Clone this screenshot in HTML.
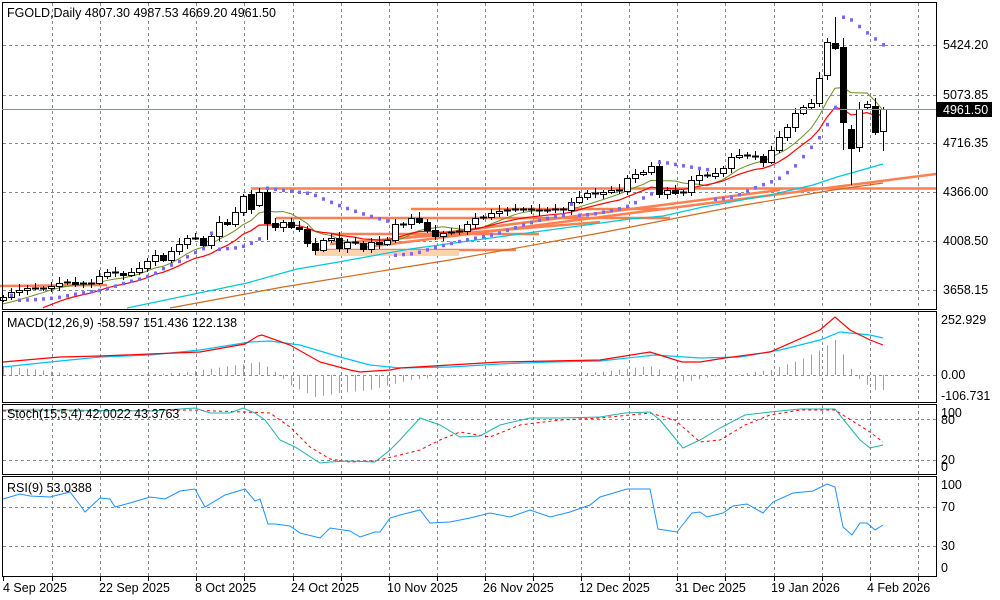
<!DOCTYPE html>
<html><head><meta charset="utf-8">
<style>
html,body{margin:0;padding:0;background:#fff;}
svg{display:block;font-family:"Liberation Sans","DejaVu Sans",sans-serif;font-size:12.5px;}
</style></head>
<body>
<svg id="s" width="1000" height="600" xmlns="http://www.w3.org/2000/svg">
<rect width="1000" height="600" fill="#fff"/>
<g id="grid"></g>
<g id="lines"></g>
<g id="cand"></g>
<g id="frames" fill="none" stroke="#000" stroke-width="1">
<rect x="2.5" y="2.5" width="934" height="307"/>
<rect x="2.5" y="311.5" width="934" height="91"/>
<rect x="2.5" y="404.5" width="934" height="70"/>
<rect x="2.5" y="476.5" width="934" height="100"/>
</g>
<line x1="2" y1="109.5" x2="936" y2="109.5" stroke="#8a9099" stroke-width="1"/>
<g fill="#000">
<text x="7" y="17">FGOLD,Daily  4807.30 4987.53 4669.20 4961.50</text>
<text x="7" y="327">MACD(12,26,9) -58.597 151.436 122.138</text>
<text x="7" y="418">Stoch(15,5,4) 42.0022 43.3763</text>
<text x="7" y="492">RSI(9) 53.0388</text>
<text x="943" y="49">5424.20</text>
<text x="943" y="99">5073.85</text>
<text x="943" y="147">4716.35</text>
<text x="943" y="196">4366.00</text>
<text x="943" y="245">4008.50</text>
<text x="943" y="294">3658.15</text>
<rect x="937" y="102" width="55" height="15" fill="#000"/>
<text x="943" y="114" fill="#fff">4961.50</text>
<text x="941" y="324">252.929</text>
<text x="941" y="379">0.00</text>
<text x="941" y="400">-106.731</text>
<text x="941" y="417">100</text>
<text x="941" y="424">80</text>
<text x="941" y="464">20</text>
<text x="941" y="471">0</text>
<text x="941" y="489">100</text>
<text x="941" y="511">70</text>
<text x="941" y="550">30</text>
<text x="941" y="572">0</text>
<text x="3" y="592">4 Sep 2025</text>
<text x="99" y="592">22 Sep 2025</text>
<text x="195" y="592">8 Oct 2025</text>
<text x="291" y="592">24 Oct 2025</text>
<text x="387" y="592">10 Nov 2025</text>
<text x="483" y="592">26 Nov 2025</text>
<text x="579" y="592">12 Dec 2025</text>
<text x="675" y="592">31 Dec 2025</text>
<text x="771" y="592">19 Jan 2026</text>
<text x="867" y="592">4 Feb 2026</text>
</g>
</svg>
<script>
var NS="http://www.w3.org/2000/svg";
function el(p,t,a){var e=document.createElementNS(NS,t);for(var k in a)e.setAttribute(k,a[k]);document.getElementById(p).appendChild(e);return e;}
function pl(p,pts,c,w,d){el(p,"polyline",{points:pts.map(function(q){return q[0]+","+q[1]}).join(" "),fill:"none",stroke:c,"stroke-width":w||1,"stroke-dasharray":d||"none"});}
var gx=[];for(var x=52;x<936;x+=48.1)gx.push(Math.round(x)+0.5);
var panels=[[3,309],[312,402],[405,474],[477,576]];
gx.forEach(function(x){panels.forEach(function(p){el("grid","line",{x1:x,y1:p[0],x2:x,y2:p[1],stroke:"#808a96","stroke-dasharray":"3,3"});});
 el("grid","line",{x1:x,y1:577,x2:x,y2:581,stroke:"#000"});});
el("grid","line",{x1:3.5,y1:577,x2:3.5,y2:581,stroke:"#000"});
[45,95,143,192,241,290,375,419,460,507,546].forEach(function(y){el("grid","line",{x1:3,y1:y+0.5,x2:936,y2:y+0.5,stroke:"#808a96","stroke-dasharray":"3,3"});});
var OR="#ff7f50";
[[0,286,107,285],[251,188.5,936,188.5],[411,209,665,209],[276,218,670,218],[331,234,539,234],[315,250,516,250]].forEach(function(l){el("lines","line",{x1:l[0],y1:l[1],x2:l[2],y2:l[3],stroke:OR,"stroke-width":2.5});});
el("lines","rect",{x:315,y:250,width:144,height:6,fill:"#ffd3b0"});
[[360,248,936,174],[380,241,780,190],[330,244,600,222]].forEach(function(l){el("lines","line",{x1:l[0],y1:l[1],x2:l[2],y2:l[3],stroke:OR,"stroke-width":2.5});});
var C=[297,292,290,288,288,288,286,283,282,284,283,283,276,272,273,275,272,268,261,255,260,251,244,238,238,245,236,222,224,212,196,209,192,223,227,222,227,229,243,250,240,238,248,242,243,249,242,244,240,224,224,218,222,230,236,233,232,231,224,218,217,213,211,210,209,209,210,211,210,209,210,202,197,193,194,192,190,191,178,174,172,166,194,190,193,192,180,175,176,173,168,157,155,156,156,162,150,137,127,113,107,103,78,42,48,122,148,109,104,132,109];
var O={31:194,32:205,33:192,102:103,103:75,104:43,105:47,106:129,107:147,108:107,109:106,110:131};
var HI={103:38,104:17,105:38,107:102,109:98,32:188},LO={106:185,110:151,105:150,33:240};
var H=[],L=[];
for(var i=0;i<C.length;i++){var o=(O[i]!==undefined)?O[i]:(i?C[i-1]:300);var c=C[i];
 var h=HI[i]!==undefined?HI[i]:Math.min(o,c)-2-((i*7)%5);var lo=LO[i]!==undefined?LO[i]:Math.max(o,c)+2+((i*5)%4);
 H.push(h);L.push(lo);var x=3+8*i;
 el("cand","line",{x1:x+0.5,y1:h,x2:x+0.5,y2:lo,stroke:"#000"});
 var t=Math.min(o,c),b=Math.max(o,c);
 if(b-t<1.5){el("cand","line",{x1:x-3,y1:t+0.5,x2:x+4,y2:t+0.5,stroke:"#000","stroke-width":2});}
 else el("cand","rect",{x:x-2.5,y:t+0.5,width:6,height:b-t,fill:(c<o?"#fff":"#000"),stroke:"#000"});
}
function sma(n,pad){var a=[],r=[];for(var i=0;i<n;i++)a.push(pad);for(var i=0;i<C.length;i++){a.push(C[i]);var sum=0;for(var k=a.length-n;k<a.length;k++)sum+=a[k];r.push([3+8*i,sum/n]);}return r;}
function ema(n,pad){var v=pad,r=[],k=2/(n+1);for(var i=0;i<C.length;i++){v=v+(C[i]-v)*k;r.push([3+8*i,v]);}return r;}
pl("lines",sma(7,305),"#6b8e23",1);
pl("lines",ema(13,335).filter(function(p){return p[1]<309}),"#ff0000",1.2);
pl("lines",[[127,308],[247,283],[297,269],[333,263],[410,249],[630,219],[663,216],[703,207],[770,195],[813,185],[837,177],[883,164]],"#00c8d8",1.2);
pl("lines",[[170,308],[283,287],[400,268],[450,260],[600,233],[733,207],[833,190],[883,183]],"#d2691e",1.2);
(function(){var up=true,af=0.02,ep=-H[0],sar=-L[0]+3;
 for(var i=1;i<C.length;i++){var hi=-H[i],lo=-L[i];
  sar=sar+af*(ep-sar);
  if(up){if(lo<sar){up=false;sar=ep;ep=lo;af=0.02;}else if(hi>ep){ep=hi;af=Math.min(0.2,af+0.02);}}
  else{if(hi>sar){up=true;sar=ep;ep=hi;af=0.02;}else if(lo<ep){ep=lo;af=Math.min(0.2,af+0.02);}}
  var y=-sar;if(y<308&&y>4)el("cand","rect",{x:3+8*i-1,y:y-1.5,width:3,height:3.5,fill:"#7b68ee"});}
})();
function interp(pts,x){for(var i=0;i<pts.length-1;i++){if(x>=pts[i][0]&&x<=pts[i+1][0]){var t=(x-pts[i][0])/(pts[i+1][0]-pts[i][0]);return pts[i][1]+t*(pts[i+1][1]-pts[i][1]);}}return pts[pts.length-1][1];}
var hist=[[3,366],[40,370],[70,374],[120,375],[180,373],[230,366],[260,362],[275,372],[290,385],[315,397],[340,393],[370,390],[390,385],[410,380],[450,376],[500,373],[560,375],[600,372],[640,367],[655,366],[670,378],[685,382],[710,377],[740,374],[770,370],[800,360],[820,350],[835,340],[845,358],[855,376],[867,385],[875,390],[883,390]];
for(var i=0;i<111;i++){var x=3+8*i;el("lines","line",{x1:x+0.5,y1:375,x2:x+0.5,y2:interp(hist,x),stroke:"#a0a0a0"});}
pl("lines",[[3,367],[50,362],[100,357],[150,355],[200,350],[250,342],[270,341],[300,345],[340,357],[370,365],[400,368],[450,367],[500,364],[550,362],[600,361],[655,355],[700,358],[740,357],[780,350],[820,340],[840,332],[870,335],[883,338]],"#00bfff",1.2);
pl("lines",[[3,362],[60,357],[100,356],[150,354],[200,352],[245,344],[258,336],[262,335],[290,345],[320,362],[350,370],[360,372],[390,370],[400,368],[450,365],[500,362],[550,361],[600,360],[650,352],[682,362],[700,362],[725,358],[770,352],[820,330],[835,317],[850,330],[870,340],[883,345]],"#ff0000",1.2);
pl("lines",[[3,411],[100,411],[190,410],[270,413],[290,427],[310,447],[330,459],[350,462],[375,461],[400,455],[420,450],[440,440],[460,432],[490,437],[520,425],[560,420],[600,418],[650,413],[675,420],[700,442],[720,440],[745,425],[770,415],[800,410],[835,410],[870,432],[883,442]],"#ff0000",1,"3,3");
pl("lines",[[3,410],[60,410],[150,411],[195,408],[210,413],[230,413],[243,408],[255,413],[265,420],[280,440],[295,447],[320,463],[330,462],[350,461],[375,462],[390,450],[400,440],[420,418],[440,425],[460,437],[480,436],[500,425],[530,418],[560,418],[600,417],[625,413],[650,412],[660,420],[683,448],[700,440],[720,428],[745,415],[770,412],[800,409],[835,409],[860,440],[870,448],[883,445]],"#20b2aa",1);
pl("lines",[[3,499],[20,494],[30,496],[50,497],[70,492],[80,505],[85,512],[100,498],[110,499],[115,507],[130,503],[150,497],[165,499],[180,491],[195,489],[205,507],[225,495],[245,489],[255,501],[260,499],[268,524],[275,524],[290,526],[300,533],[320,538],[330,528],[350,531],[360,537],[375,532],[380,532],[390,518],[400,515],[420,510],[430,523],[450,522],[470,518],[490,513],[510,517],[530,510],[550,517],[570,512],[590,505],[600,497],[627,489],[650,489],[658,529],[677,532],[692,513],[700,512],[707,517],[723,513],[733,506],[747,504],[763,513],[773,502],[793,493],[813,491],[827,484],[835,487],[843,527],[852,535],[860,523],[867,523],[875,530],[883,525]],"#1e90ff",1);
</script>
</body></html>
